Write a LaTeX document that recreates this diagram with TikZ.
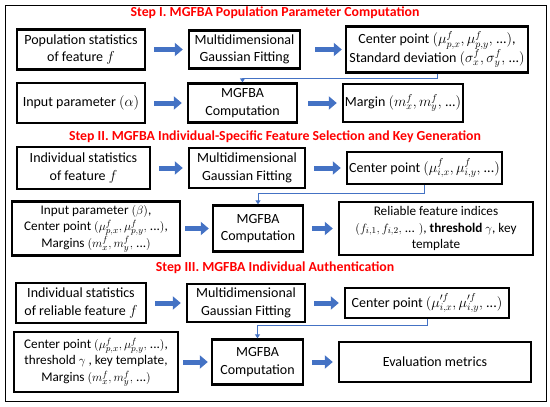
\documentclass[tikz,border=0pt]{standalone}
\usepackage{fontspec}
\setmainfont{Carlito}
\usetikzlibrary{arrows.meta}
\definecolor{azul}{HTML}{4472C4}
\definecolor{rojo}{HTML}{FF0000}
\tikzset{
  caja/.style={draw, line width=2.4pt, fill=white, align=center, inner sep=1pt,
    font=\fontsize{14}{17.5}\selectfont},
  apretada/.style={font=\fontsize{13.2}{16.5}\selectfont},
  marco/.style={draw, double, double distance=1.2pt, line width=0.5pt},
  paso/.style={text=rojo, font=\fontsize{13.8}{16}\selectfont\bfseries},
  gruesa/.style={azul, line width=5pt, -{Triangle[length=8pt,width=13pt]},
    shorten <=8pt, shorten >=5pt},
  retorno/.style={azul, line width=1pt, -{Triangle[length=4pt,width=5pt]}}
}
\begin{document}
\begin{tikzpicture}[x=1pt, y=-1pt]
  \useasboundingbox (0,0) rectangle (550,407);
  \draw[line width=1pt] (5,5) rectangle (546,401);
  \node[paso] (tituloA) at (275,13) {Step I. MGFBA Population Parameter Computation};
  \node[paso] (tituloB) at (275,137) {Step II. MGFBA Individual-Specific Feature Selection and Key Generation};
  \node[paso] (tituloC) at (275,268) {Step III. MGFBA Individual Authentication};
  \draw[marco] (11,21) rectangle (540,127);
  \draw[marco] (11,144) rectangle (540,259);
  \draw[marco] (11,276) rectangle (540,396);

  \node[caja, minimum width=128pt, minimum height=40pt] (popstatsA) at (81,49.5)
    {Population statistics\\of feature $f$};
  \node[caja, minimum width=111pt, minimum height=38pt] (fitA) at (244.5,49.5)
    {Multidimensional\\Gaussian Fitting};
  \node[caja, minimum width=182pt, minimum height=46pt] (centerA) at (437,49.5)
    {Center point $(\mu^{f}_{p,x}, \mu^{f}_{p,y},$ ...$)$,\\Standard deviation $(\sigma^{f}_{x}, \sigma^{f}_{y},$ ...$)$};
  \node[caja, minimum width=128pt, minimum height=40pt] (inputA) at (81,103)
    {Input parameter $(\alpha)$};
  \node[caja, minimum width=109pt, minimum height=39pt] (compA) at (242.5,103)
    {MGFBA\\Computation};
  \node[caja, minimum width=120pt, minimum height=38pt] (marginA) at (403,103)
    {Margin $(m^{f}_{x}, m^{f}_{y},$ ...$)$};
  \draw[gruesa] (popstatsA) -- (fitA);
  \draw[gruesa, shorten <=14pt, shorten >=3pt] (fitA) -- (centerA);
  \draw[gruesa] (inputA) -- (compA);
  \draw[gruesa, shorten <=10pt] (compA) -- (marginA);
  \draw[retorno] (centerA.south) -- ++(0,5) -| (compA.north);

  \node[caja, minimum width=133pt, minimum height=42pt] (indstatsB) at (83.5,168)
    {Individual statistics\\of feature $f$};
  \node[caja, minimum width=116pt, minimum height=40pt] (fitB) at (247,168)
    {Multidimensional\\Gaussian Fitting};
  \node[caja, minimum width=155pt, minimum height=32pt] (centerB) at (424.5,168)
    {Center point $(\mu^{f}_{i,x}, \mu^{f}_{i,y},$ ...$)$};
  \node[caja, apretada, minimum width=168pt, minimum height=54pt] (inputB) at (96,228.5)
    {Input parameter $(\beta)$,\\Center point $(\mu^{f}_{p,x}, \mu^{f}_{p,y},$ ...$)$,\\Margins $(m^{f}_{x}, m^{f}_{y},$ ...$)$};
  \node[caja, minimum width=90pt, minimum height=46pt] (compB) at (258,228.5)
    {MGFBA\\Computation};
  \node[caja, apretada, minimum width=194pt, minimum height=53pt] (reliableB) at (436,228.5)
    {Reliable feature indices\\$(f_{i,1}, f_{i,2},$ ... $)$, $\mathbf{threshold}\ \gamma$, key\\template};
  \draw[gruesa] (indstatsB) -- (fitB);
  \draw[gruesa, shorten <=8pt] (fitB) -- (centerB);
  \draw[gruesa, shorten <=4pt, shorten >=3pt] (inputB) -- (compB);
  \draw[gruesa] (compB) -- (reliableB);
  \draw[retorno] (centerB.south) -- ++(0,8) -| (compB.north);

  \node[caja, minimum width=130pt, minimum height=40pt] (indstatsC) at (81,303)
    {Individual statistics\\of reliable feature $f$};
  \node[caja, minimum width=118pt, minimum height=38pt] (fitC) at (246,303)
    {Multidimensional\\Gaussian Fitting};
  \node[caja, minimum width=164pt, minimum height=30pt] (centerC) at (427,303)
    {Center point $(\mu'^{f}_{i,x}, \mu'^{f}_{i,y},$ ...$)$};
  \node[caja, apretada, minimum width=164pt, minimum height=60pt] (inputC) at (96,362)
    {Center point $(\mu^{f}_{p,x}, \mu^{f}_{p,y},$ ...$)$,\\threshold $\gamma$ , key template,\\Margins $(m^{f}_{x}, m^{f}_{y},$ ...$)$};
  \node[caja, minimum width=91pt, minimum height=45pt] (compC) at (257.5,362)
    {MGFBA\\Computation};
  \node[caja, minimum width=192pt, minimum height=40pt] (metricsC) at (435,362)
    {Evaluation metrics};
  \draw[gruesa] (indstatsC) -- (fitC);
  \draw[gruesa, shorten <=8pt] (fitC) -- (centerC);
  \draw[gruesa, shorten <=4pt, shorten >=3pt] (inputC) -- (compC);
  \draw[gruesa] (compC) -- (metricsC);
  \draw[retorno] (centerC.south) -- ++(0,6) -| (compC.north);
\end{tikzpicture}
\end{document}
